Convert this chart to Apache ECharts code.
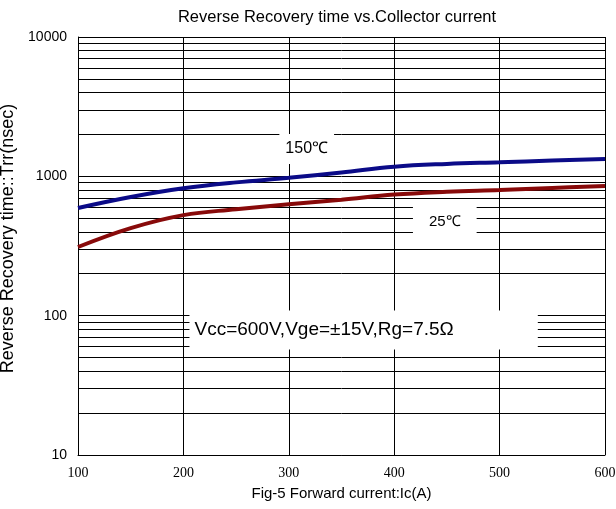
<!DOCTYPE html>
<html><head><meta charset="utf-8">
<script src="https://cdn.jsdelivr.net/npm/echarts@6/dist/echarts.min.js"></script>
<style>html,body{margin:0;padding:0;background:#fff}#c{width:616px;height:509px}</style>
</head><body><div id="c"></div>
<script>
const xTicks = [100, 200, 300, 400, 500, 600];
const yTicks = [10, 100, 1000, 10000];
const minorGrid = [20,30,40,50,60,70,80,90,200,300,400,500,600,700,800,900,2000,3000,4000,5000,6000,7000,8000,9000];
const current = [100, 150, 200, 250, 300, 350, 400, 450, 500, 550, 600];
const trr150 = [592, 710, 820, 905, 975, 1065, 1172, 1228, 1262, 1298, 1331];
const trr25 = [311, 425, 527, 580, 630, 680, 740, 775, 798, 825, 851];
const annotations = [
  {name: '150℃', x: 317, y: 1571},
  {name: '25℃', x: 448, y: 470},
  {name: 'Vcc=600V,Vge=±15V,Rg=7.5Ω', x: 371, y: 78.8}
];
const annotationStyles = [
  {fontSize: 16, padding: [7, 6, 7, 6]},
  {fontSize: 15, padding: [9, 16, 9, 16]},
  {fontSize: 19, padding: [10, 84, 10, 5]}
];

const chart = echarts.init(document.getElementById('c'));
const pair = (xs, ys) => xs.map((x, i) => [x, ys[i]]);
chart.setOption({
  animation: false,
  backgroundColor: '#fff',
  title: {
    text: 'Reverse Recovery time vs.Collector current',
    left: 332, top: 4, textAlign: 'center',
    textStyle: {fontFamily: 'Liberation Sans', fontSize: 16.5, fontWeight: 'normal', color: '#000'}
  },
  grid: {left: 78, right: 11, top: 37, bottom: 54, outerBoundsMode: 'none', containLabel: false},
  xAxis: {
    type: 'value', min: xTicks[0], max: xTicks[xTicks.length - 1], interval: 100,
    name: 'Fig-5 Forward current:Ic(A)', nameLocation: 'middle', nameGap: 31,
    nameTextStyle: {fontFamily: 'Liberation Sans', fontSize: 15, color: '#000'},
    axisLine: {show: true, lineStyle: {color: '#000', width: 1}},
    axisTick: {show: false},
    axisLabel: {fontFamily: 'Liberation Serif', fontSize: 14, color: '#000', margin: 11,
      formatter: v => xTicks.includes(v) ? String(v) : ''},
    splitLine: {show: true, lineStyle: {color: '#000', width: 1}}
  },
  yAxis: {
    type: 'log', logBase: 10, min: yTicks[0], max: yTicks[yTicks.length - 1],
    name: 'Reverse Recovery time::Trr(nsec)', nameLocation: 'middle', nameGap: 53,
    nameTextStyle: {fontFamily: 'Liberation Sans', fontSize: 18, color: '#000', padding: [0, 0, 0, 15]},
    axisLine: {show: true, lineStyle: {color: '#000', width: 1}},
    axisTick: {show: false},
    axisLabel: {fontFamily: 'Liberation Sans', fontSize: 14, color: '#000', margin: 11,
      formatter: v => String(Math.round(v))},
    splitLine: {show: true, lineStyle: {color: '#000', width: 1}}
  },
  series: [
    {
      type: 'line', data: [], z: 1, silent: true,
      markLine: {
        silent: true, symbol: ['none', 'none'], animation: false,
        label: {show: false},
        lineStyle: {color: '#000', width: 1, type: 'solid'},
        data: minorGrid.map(v => ({yAxis: v}))
      }
    },
    {
      type: 'scatter', z: 5, symbolSize: 0, silent: true,
      itemStyle: {opacity: 1},
      data: annotations.map((a, i) => ({name: a.name, value: [a.x, a.y], label: annotationStyles[i]})),
      label: {
        show: true, position: 'inside', color: '#000', fontFamily: 'Liberation Sans',
        backgroundColor: '#fff', opacity: 1,
        formatter: p => p.name
      }
    },
    {
      name: '150℃', type: 'line', z: 10, smooth: 0.4, showSymbol: false,
      lineStyle: {color: '#0B0B88', width: 4}, itemStyle: {color: '#0B0B88'},
      data: pair(current, trr150)
    },
    {
      name: '25℃', type: 'line', z: 10, smooth: 0.4, showSymbol: false,
      lineStyle: {color: '#880A0A', width: 4}, itemStyle: {color: '#880A0A'},
      data: pair(current, trr25)
    }
  ]
});
</script>
</body></html>
